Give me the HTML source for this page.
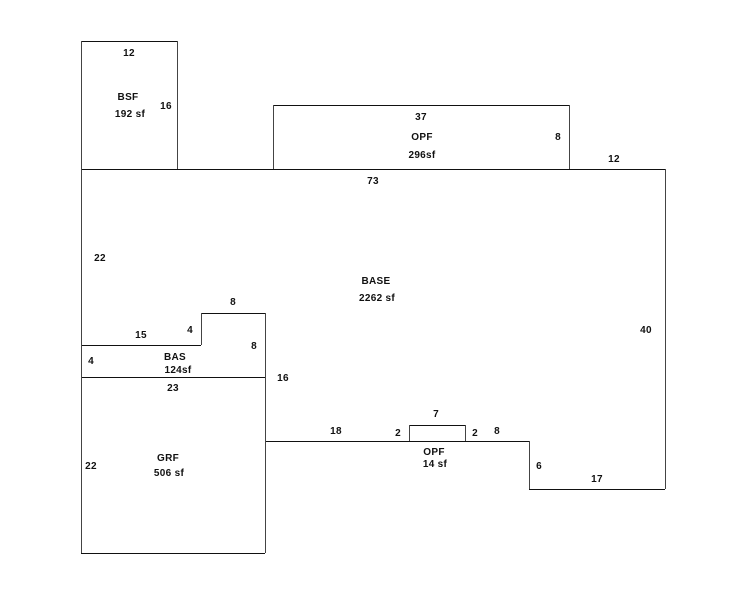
<!DOCTYPE html>
<html><head><meta charset="utf-8"><style>
html,body{margin:0;padding:0;background:#fff;width:746px;height:595px;overflow:hidden}
svg text{font-family:"Liberation Sans",Arial,sans-serif;font-size:10px;font-weight:bold;fill:#111;text-anchor:middle;letter-spacing:0.3px}
</style></head><body>
<svg width="746" height="595" xmlns="http://www.w3.org/2000/svg">
<g fill="none" stroke="#111" stroke-width="1" shape-rendering="crispEdges">
<line x1="81" y1="41.5" x2="177" y2="41.5"/>
<line x1="273" y1="105.5" x2="569" y2="105.5"/>
<line x1="81" y1="169.5" x2="665" y2="169.5"/>
<line x1="81" y1="345.5" x2="201" y2="345.5"/>
<line x1="201" y1="313.5" x2="265" y2="313.5"/>
<line x1="81" y1="377.5" x2="265" y2="377.5"/>
<line x1="265" y1="441.5" x2="529" y2="441.5"/>
<line x1="409" y1="425.5" x2="465" y2="425.5"/>
<line x1="529" y1="489.5" x2="665" y2="489.5"/>
<line x1="81" y1="553.5" x2="265" y2="553.5"/>
</g>
<g fill="none" stroke="#444" stroke-width="1" shape-rendering="crispEdges">
<line x1="81.5" y1="41" x2="81.5" y2="553"/>
<line x1="177.5" y1="41" x2="177.5" y2="169"/>
<line x1="273.5" y1="105" x2="273.5" y2="169"/>
<line x1="569.5" y1="105" x2="569.5" y2="169"/>
<line x1="665.5" y1="169" x2="665.5" y2="489"/>
<line x1="201.5" y1="313" x2="201.5" y2="345"/>
<line x1="265.5" y1="313" x2="265.5" y2="553"/>
<line x1="409.5" y1="425" x2="409.5" y2="441"/>
<line x1="465.5" y1="425" x2="465.5" y2="441"/>
<line x1="529.5" y1="441" x2="529.5" y2="489"/>
</g>
<text x="129" y="56">12</text>
<text x="128" y="100">BSF</text>
<text x="130" y="117">192 sf</text>
<text x="166" y="109">16</text>
<text x="421" y="120">37</text>
<text x="422" y="140">OPF</text>
<text x="422" y="158">296sf</text>
<text x="558" y="140">8</text>
<text x="614" y="162">12</text>
<text x="373" y="184">73</text>
<text x="100" y="261">22</text>
<text x="376" y="284">BASE</text>
<text x="377" y="301">2262 sf</text>
<text x="233" y="305">8</text>
<text x="141" y="338">15</text>
<text x="190" y="333">4</text>
<text x="254" y="349">8</text>
<text x="646" y="333">40</text>
<text x="91" y="364">4</text>
<text x="175" y="360">BAS</text>
<text x="178" y="373">124sf</text>
<text x="283" y="381">16</text>
<text x="173" y="391">23</text>
<text x="436" y="417">7</text>
<text x="336" y="434">18</text>
<text x="398" y="436">2</text>
<text x="475" y="436">2</text>
<text x="497" y="434">8</text>
<text x="434" y="455">OPF</text>
<text x="435" y="467">14 sf</text>
<text x="539" y="469">6</text>
<text x="168" y="461">GRF</text>
<text x="169" y="476">506 sf</text>
<text x="91" y="469">22</text>
<text x="597" y="482">17</text>
</svg>
</body></html>
